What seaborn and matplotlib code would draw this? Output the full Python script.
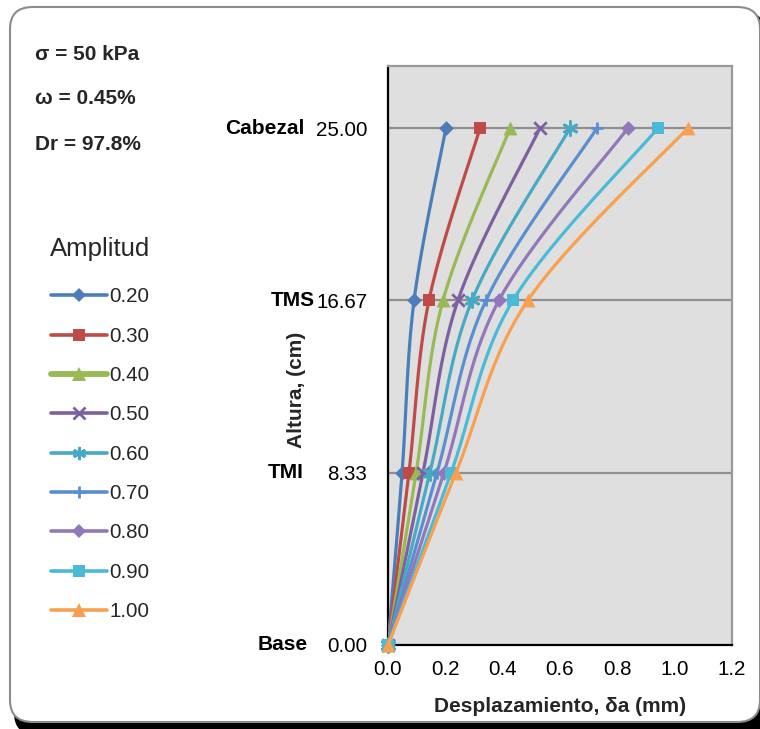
import numpy as np
import pandas as pd
import matplotlib
matplotlib.use("Agg")
import matplotlib.pyplot as plt
from matplotlib.lines import Line2D
from matplotlib.patches import FancyBboxPatch
import seaborn as sns

# --- data -------------------------------------------------------------
alturas = [0.00, 8.33, 16.67, 25.00]
etiquetas_altura = ["Base", "TMI", "TMS", "Cabezal"]
amplitudes = ["0.20", "0.30", "0.40", "0.50", "0.60", "0.70", "0.80", "0.90", "1.00"]
desp_base = [0.0] * 9
desp_tmi = [0.049, 0.073, 0.098, 0.122, 0.146, 0.171, 0.195, 0.220, 0.237]
desp_tms = [0.091, 0.143, 0.192, 0.244, 0.293, 0.342, 0.387, 0.436, 0.488]
desp_cabezal = [0.202, 0.321, 0.426, 0.530, 0.635, 0.729, 0.837, 0.942, 1.046]

colores = ["#4A7EBB", "#BE4B48", "#98B954", "#7D60A0", "#46AAC5",
           "#5A8FCF", "#9178BA", "#4BBAD6", "#F9A04E"]
marcadores = ["D", "s", "^", "x", (6, 2, 0), "+", "D", "s", "^"]
tam_marc = [7.5, 9, 10, 9, 10, 9, 7.5, 9, 10]

sns.set_theme(style="white")
plt.rcParams["font.family"] = ["Liberation Sans", "DejaVu Sans"]

W, H = 760, 729
fig = plt.figure(figsize=(W / 100, H / 100), dpi=100)


def fx(px):
    return px / W


def fy(py):
    return 1 - py / H


# rounded frame with dark drop shadow
sombra = FancyBboxPatch((fx(14), fy(735)), fx(766) - fx(14), fy(12) - fy(735),
                        boxstyle="round,pad=0,rounding_size=0.03",
                        transform=fig.transFigure, facecolor="black",
                        edgecolor="none", zorder=0)
marco = FancyBboxPatch((fx(10), fy(722)), fx(760) - fx(10), fy(7) - fy(722),
                       boxstyle="round,pad=0,rounding_size=0.03",
                       transform=fig.transFigure, facecolor="white",
                       edgecolor="#8C8C8C", linewidth=1.5, zorder=1)
fig.patches.extend([sombra, marco])

ax = fig.add_axes([fx(388), fy(645), fx(732) - fx(388), fy(66) - fy(645)])
ax.set_zorder(2)
ax.set_facecolor("#DFDFDF")
XMAX, YMAX = 1.2, 28.0
ax.set_xlim(0, XMAX)
ax.set_ylim(0, YMAX)

# scale to screen-proportional units so the smoothing follows the drawn shape
SX = (732 - 388) / XMAX
SY = (645 - 66) / YMAX


def suavizar(xs, ys, n=30):
    """Cubic Bezier smoothing through the points (Catmull-Rom style)."""
    P = np.column_stack([np.asarray(xs) * SX, np.asarray(ys) * SY])
    pts = [P[0]]
    t = np.linspace(0, 1, n)[1:, None]
    for i in range(len(P) - 1):
        p0 = P[i - 1] if i > 0 else P[i]
        p1, p2 = P[i], P[i + 1]
        p3 = P[i + 2] if i + 2 < len(P) else P[i + 1]
        c1 = p1 + (p2 - p0) / 6
        c2 = p2 - (p3 - p1) / 6
        seg = ((1 - t) ** 3) * p1 + 3 * ((1 - t) ** 2) * t * c1 \
            + 3 * (1 - t) * t ** 2 * c2 + t ** 3 * p2
        pts.extend(seg)
    pts = np.array(pts)
    return pts[:, 0] / SX, pts[:, 1] / SY


# horizontal grid lines at the section heights
for h in alturas[1:]:
    ax.axhline(h, color="#8F8F8F", lw=1.6, zorder=1)

handles = []
for i, amp in enumerate(amplitudes):
    xs = [desp_base[i], desp_tmi[i], desp_tms[i], desp_cabezal[i]]
    sx, sy = suavizar(xs, alturas)
    sns.lineplot(x=sx, y=sy, sort=False, estimator=None, color=colores[i],
                 lw=2.3, ax=ax, zorder=3 + i, legend=False)
    mk = marcadores[i]
    relleno = mk in ("D", "s", "^")
    pts = pd.DataFrame({"x": xs, "y": alturas})
    sns.scatterplot(data=pts, x="x", y="y", marker=mk, s=tam_marc[i] ** 2,
                    color=colores[i], linewidth=0 if relleno else 2.0,
                    edgecolor=None if relleno else colores[i],
                    ax=ax, zorder=3 + i, legend=False, clip_on=False)
    handles.append(Line2D([], [], color=colores[i],
                          lw=4.2 if amp == "0.40" else 2.6,
                          marker=mk, markersize=tam_marc[i] * 0.95,
                          markeredgewidth=0 if relleno else 2.0,
                          markeredgecolor=colores[i]))

# axes frame
for lado in ("top", "right"):
    ax.spines[lado].set_color("#9A9A9A")
    ax.spines[lado].set_linewidth(1.6)
for lado in ("left", "bottom"):
    ax.spines[lado].set_color("black")
    ax.spines[lado].set_linewidth(1.6)

ax.set_xticks(np.arange(0, 1.21, 0.2))
ax.set_xticklabels([f"{v:.1f}" for v in np.arange(0, 1.21, 0.2)])
ax.set_yticks(alturas)
ax.set_yticklabels([f"{v:.2f}" for v in alturas])
ax.tick_params(axis="both", which="major", direction="out", length=5,
               width=1.4, color="black", labelsize=14.8, labelcolor="black")
ax.tick_params(axis="y", pad=10)
ax.tick_params(axis="x", pad=6)
ax.set_xlabel("")
ax.set_ylabel("")

# bold section names next to the height ticks
pos_nombres = {"Base": 308, "TMI": 304, "TMS": 315, "Cabezal": 304}
for nombre, h in zip(etiquetas_altura, alturas):
    ypix = 645 - h * SY
    fig.text(fx(pos_nombres[nombre]), fy(ypix), nombre, ha="right", va="center",
             fontsize=15, fontweight="bold", color="black")

fig.text(fx(560), fy(707), "Desplazamiento, δa (mm)", ha="center", va="center",
         fontsize=15, fontweight="bold")
fig.text(fx(296), fy(390), "Altura, (cm)", ha="center", va="center",
         rotation=90, fontsize=15, fontweight="bold")

# test conditions
for txt, ypix in [("σ = 50 kPa", 55), ("ω = 0.45%", 99), ("Dr = 97.8%", 145)]:
    fig.text(fx(35), fy(ypix), txt, ha="left", va="center", fontsize=15,
             fontweight="bold")

leg = fig.legend(handles, amplitudes, title="Amplitud", loc="upper left",
                 bbox_to_anchor=(fx(50), fy(237)), frameon=False,
                 fontsize=14.8, title_fontsize=18.5, handlelength=2.75,
                 handletextpad=0.12, labelspacing=0.99, borderpad=0,
                 borderaxespad=0)
leg.set_zorder(3)
leg._legend_box.sep = 19

fig.savefig("out.png", dpi=100)
